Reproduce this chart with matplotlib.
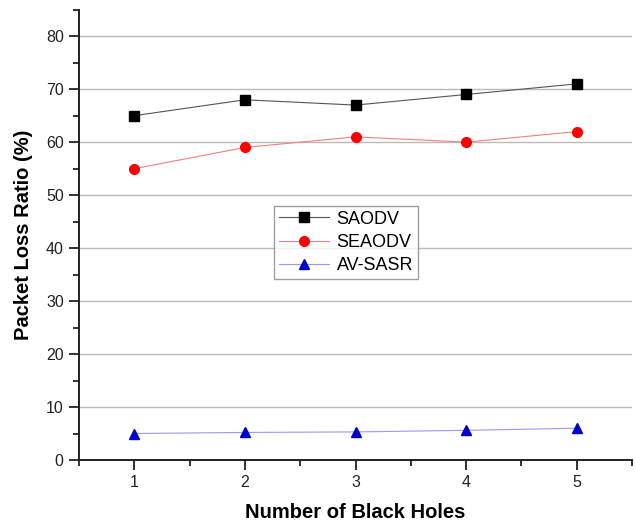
import matplotlib.pyplot as plt
from matplotlib.ticker import MultipleLocator

plt.rcParams['font.family'] = ['Liberation Sans', 'DejaVu Sans']

# Données
black_holes = [1, 2, 3, 4, 5]
saodv = [65, 68, 67, 69, 71]
seaodv = [55, 59, 61, 60, 62]
av_sasr = [5.0, 5.2, 5.3, 5.6, 6.0]

fig = plt.figure(figsize=(6.35, 5.26), dpi=100)
ax = fig.add_axes([0.1244, 0.1255, 0.871, 0.856])

ax.plot(black_holes, saodv, color='#555555', lw=0.8, marker='s', ms=6.5,
        mfc='black', mec='black', label='SAODV', zorder=3)
ax.plot(black_holes, seaodv, color='#f08080', lw=0.8, marker='o', ms=7,
        mfc='red', mec='red', label='SEAODV', zorder=3)
ax.plot(black_holes, av_sasr, color='#9999ee', lw=0.8, marker='^', ms=7.5,
        mfc='#0000cc', mec='#0000cc', label='AV-SASR', zorder=3)

ax.set_xlim(0.5, 5.5)
ax.set_ylim(0, 85)
ax.xaxis.set_major_locator(MultipleLocator(1))
ax.xaxis.set_minor_locator(MultipleLocator(0.5))
ax.yaxis.set_major_locator(MultipleLocator(10))
ax.yaxis.set_minor_locator(MultipleLocator(5))
ax.yaxis.grid(True, color='#bbbbbb', lw=1.0)
ax.set_axisbelow(True)

for s in ['top', 'right']:
    ax.spines[s].set_visible(False)
for s in ['left', 'bottom']:
    ax.spines[s].set_linewidth(1.4)
    ax.spines[s].set_color('#222222')

ax.tick_params(which='major', direction='out', length=7, width=1.3,
               labelsize=11.5, colors='#222222', pad=4)
ax.tick_params(which='minor', direction='out', length=4, width=1.3,
               colors='#222222')

ax.set_xlabel('Number of Black Holes', fontsize=14.5, fontweight='bold',
              labelpad=9)
ax.set_ylabel('Packet Loss Ratio (%)', fontsize=14.5, fontweight='bold',
              labelpad=9)

leg = ax.legend(loc='upper left', bbox_to_anchor=(0.353, 0.564),
                fontsize=13, frameon=True, fancybox=False,
                handlelength=2.8, borderpad=0.25, labelspacing=0.35,
                handletextpad=0.4, borderaxespad=0)
leg.get_frame().set_edgecolor('#888888')
leg.get_frame().set_linewidth(1.0)

fig.savefig('out.png', dpi=100)
